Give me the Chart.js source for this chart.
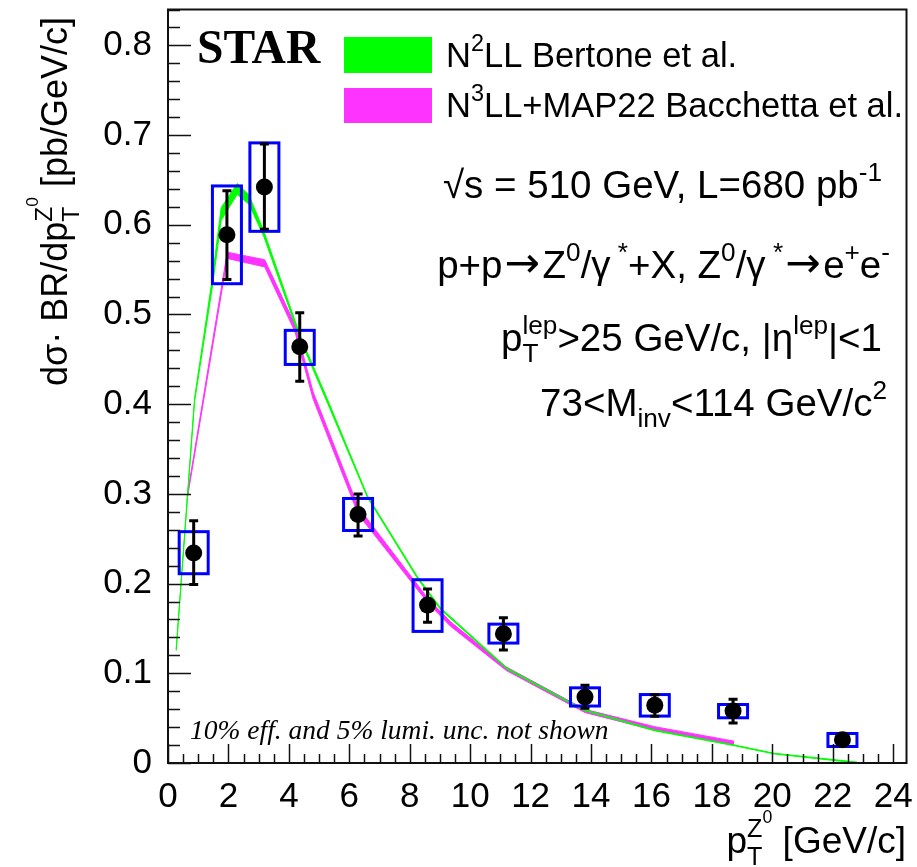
<!DOCTYPE html>
<html><head><meta charset="utf-8">
<script src="https://cdn.jsdelivr.net/npm/chart.js@4.4.0/dist/chart.umd.min.js"></script>
<style>html,body{margin:0;padding:0;background:#fff;} canvas{display:block;}</style>
</head><body>
<canvas id="c" width="917" height="867"></canvas>
<script>
// ---------------- data ----------------
const ptX    = [0.85, 1.95, 3.19, 4.36, 6.29, 8.59, 11.10, 13.80, 16.11, 18.70, 22.32];
const ptY    = [0.234, 0.589, 0.642, 0.464, 0.277, 0.176, 0.144, 0.0736, 0.0643, 0.058, 0.026];
const statLo = [0.199, 0.539, 0.595, 0.4255, 0.253, 0.157, 0.126, 0.061, 0.052, 0.0446, 0.022];
const statHi = [0.270, 0.638, 0.690, 0.502, 0.300, 0.194, 0.162, 0.0866, 0.0762, 0.071, 0.030];
const sysLo  = [0.2110, 0.5343, 0.5927, 0.4443, 0.2592, 0.1467, 0.1337, 0.0635, 0.0523, 0.0504, 0.0184];
const sysHi  = [0.2579, 0.6433, 0.6913, 0.4823, 0.2949, 0.2043, 0.1548, 0.0838, 0.0763, 0.0652, 0.0329];
const binHalfWidth = 0.48;

// N2LL Bertone et al. (green band)
const greenX  = [0.27, 0.88, 1.46, 1.76, 2.29, 2.68, 3.17, 4.39, 5.27, 6.60, 8.25, 9.02, 11.23, 13.77, 16.09, 18.74, 20.06, 22.80];
const greenLo = [0.125, 0.403, 0.529, 0.605, 0.634, 0.623, 0.587, 0.471, 0.402, 0.296, 0.206, 0.171, 0.1043, 0.0584, 0.0360, 0.0193, 0.0101, 0.0];
const greenHi = [0.127, 0.407, 0.539, 0.619, 0.646, 0.633, 0.593, 0.475, 0.406, 0.298, 0.208, 0.173, 0.1057, 0.0596, 0.0370, 0.0201, 0.0109, 0.001];

// N3LL+MAP22 Bacchetta et al. (magenta band)
const magX  = [0.63, 1.96, 3.20, 4.20, 4.80, 6.30, 8.60, 9.35, 11.20, 13.80, 16.10, 18.74];
const magLo = [0.293, 0.5625, 0.5530, 0.481, 0.406, 0.277, 0.1785, 0.1525, 0.1030, 0.0562, 0.0365, 0.0203];
const magHi = [0.297, 0.5695, 0.5610, 0.489, 0.414, 0.285, 0.1835, 0.1575, 0.1070, 0.0598, 0.0405, 0.0243];

const yTickStep = 0.1, xTickStep = 2;
const xMax = 24.44, yMax = 0.84;

// ---------------- helpers ----------------
const SANS = '"Liberation Sans", Arial, Helvetica, sans-serif';
const SERIF = '"Liberation Serif", "Times New Roman", serif';
const DEJA = '"DejaVu Sans", sans-serif';
const pts = (xs, ys) => xs.map((x, i) => ({x, y: ys[i]}));

function fontStr(r, size, fam) { return `${r.st || ''} ${(size * (r.s || 1)).toFixed(2)}px ${r.f || fam}`; }
function measureRuns(ctx, runs, size, fam) {
  let w = 0;
  for (const r of runs) { ctx.font = fontStr(r, size, fam); w += ctx.measureText(r.t).width + (r.g || 0) * size; }
  return w;
}
function drawRuns(ctx, runs, x, y, size, fam) {
  for (const r of runs) {
    ctx.font = fontStr(r, size, fam);
    ctx.fillText(r.t, x + (r.pre || 0) * size, y + (r.dy || 0) * size);
    x += ctx.measureText(r.t).width + (r.g || 0) * size;
  }
}
function drawRich(ctx, items, x, y, size, fam, align) {
  const widths = items.map(it => it.stack ? Math.max(...it.stack.map(rs => measureRuns(ctx, rs, size, fam)))
                                          : measureRuns(ctx, [it], size, fam));
  const total = widths.reduce((a, b) => a + b, 0);
  let cx = align === 'right' ? x - total : (align === 'center' ? x - total / 2 : x);
  ctx.textAlign = 'left'; ctx.textBaseline = 'alphabetic';
  items.forEach((it, i) => {
    if (it.stack) it.stack.forEach(rs => drawRuns(ctx, rs, cx, y, size, fam));
    else drawRuns(ctx, [it], cx, y, size, fam);
    cx += widths[i];
  });
}
const SUP = (t, g) => ({t, s: 0.68, dy: -0.45, g});
const SUB = (t) => ({t, s: 0.68, dy: 0.28});
const ARROW = {t: '\u2192', f: DEJA, s: 1.1, dy: -0.02, g: 0.12, pre: 0.06};

// ---------------- custom drawing plugin ----------------
const starPlugin = {
  id: 'star',
  beforeDatasetDraw(chart, args) {
    if (args.index !== 4) return;
    const ctx = chart.ctx, xs = chart.scales.x, ys = chart.scales.y;
    ctx.save();
    // systematic boxes
    ctx.strokeStyle = '#0000ff'; ctx.lineWidth = 3;
    for (let i = 0; i < ptX.length; i++) {
      const x0 = xs.getPixelForValue(ptX[i] - binHalfWidth), x1 = xs.getPixelForValue(ptX[i] + binHalfWidth);
      const y0 = ys.getPixelForValue(sysHi[i]), y1 = ys.getPixelForValue(sysLo[i]);
      ctx.strokeRect(x0, y0, x1 - x0, y1 - y0);
    }
    // statistical error bars
    ctx.strokeStyle = '#000'; ctx.lineWidth = 3;
    for (let i = 0; i < ptX.length; i++) {
      const x = xs.getPixelForValue(ptX[i]);
      const y0 = ys.getPixelForValue(statHi[i]), y1 = ys.getPixelForValue(statLo[i]);
      ctx.beginPath();
      ctx.moveTo(x, y0); ctx.lineTo(x, y1);
      ctx.moveTo(x - 4.5, y0); ctx.lineTo(x + 4.5, y0);
      ctx.moveTo(x - 4.5, y1); ctx.lineTo(x + 4.5, y1);
      ctx.stroke();
    }
    ctx.restore();
  },
  afterDraw(chart) {
    const ctx = chart.ctx, xs = chart.scales.x, ys = chart.scales.y, a = chart.chartArea;
    ctx.save();
    // ticks inside frame
    ctx.strokeStyle = '#111'; ctx.lineWidth = 1.5;
    ctx.beginPath();
    for (let k = 0; k <= Math.round(yMax / 0.02); k++) {
      const v = k * 0.02; if (v > yMax + 1e-9) break;
      const y = Math.round(ys.getPixelForValue(v)) + 0.5;
      const len = (k % 5 === 0) ? 23 : 12;
      ctx.moveTo(a.left, y); ctx.lineTo(a.left + len, y);
    }
    for (let k = 0; k * 0.5 <= xMax; k++) {
      const x = Math.round(xs.getPixelForValue(k * 0.5)) + 0.5;
      const len = (k % 4 === 0) ? 19 : 9;
      ctx.moveTo(x, a.bottom); ctx.lineTo(x, a.bottom - len);
    }
    ctx.stroke();
    // frame
    ctx.strokeStyle = '#111'; ctx.lineWidth = 2;
    ctx.strokeRect(a.left, a.top, a.right - a.left, a.bottom - a.top);

    ctx.fillStyle = '#000';
    // STAR label
    ctx.font = `bold 47.5px ${SERIF}`; ctx.textAlign = 'left'; ctx.textBaseline = 'alphabetic';
    ctx.fillText('STAR', 197, 63);

    // legend
    ctx.fillStyle = '#00ff00'; ctx.fillRect(344, 37, 88, 36);
    ctx.fillStyle = '#ff33ff'; ctx.fillRect(344, 88, 88, 35);
    ctx.fillStyle = '#000';
    const LS = 34.5;
    drawRich(ctx, [{t: 'N'}, SUP('2'), {t: 'LL Bertone et al.'}], 446, 67, LS, SANS, 'left');
    drawRich(ctx, [{t: 'N'}, SUP('3'), {t: 'LL+MAP22 Bacchetta et al.'}], 446, 117, LS, SANS, 'left');

    // annotations
    const TS = 38.5;
    drawRich(ctx, [{t: '\u221As = 510 GeV, L=680 pb'}, SUP('-1')], 882, 198, TS, SANS, 'right');
    drawRich(ctx, [{t: 'p+p'}, ARROW, {t: 'Z'}, SUP('0'), {t: '/\u03B3'}, SUP(' *'), {t: '+X, Z'}, SUP('0'), {t: '/\u03B3'}, SUP(' *'),
                   ARROW, {t: 'e'}, SUP('+'), {t: 'e'}, SUP('-')], 890, 278, TS, SANS, 'right');
    drawRich(ctx, [{t: 'p'}, {stack: [[SUB('T')], [SUP('lep')]]}, {t: '>25 GeV/c, |\u03B7'}, SUP('lep'), {t: '|<1'}], 882, 351, TS, SANS, 'right');
    drawRich(ctx, [{t: '73<M'}, SUB('inv'), {t: '<114 GeV/c'}, SUP('2')], 887, 416, TS, SANS, 'right');

    // note
    ctx.font = `italic 27.5px ${SERIF}`; ctx.textAlign = 'left';
    ctx.fillText('10% eff. and 5% lumi. unc. not shown', 190, 739);

    // x title
    drawRich(ctx, [{t: 'p'}, {stack: [[{t: 'T', s: 0.68, dy: 0.33}], [{t: 'Z', s: 0.68, dy: -0.42}, {t: '0', s: 0.48, dy: -0.8}]]},
                   {t: ' [GeV/c]'}], 906, 853, 37, SANS, 'right');
    // y title (rotated)
    ctx.translate(67, 17); ctx.rotate(-Math.PI / 2);
    drawRich(ctx, [{t: 'd\u03C3\u00B7 BR/dp'}, {stack: [[{t: 'T', s: 0.68, dy: 0.33}], [{t: 'Z', s: 0.68, dy: -0.42}, {t: '0', s: 0.48, dy: -0.8}]]},
                   {t: ' [pb/GeV/c]'}], 0, 0, 36, SANS, 'right');
    ctx.restore();
  }
};

// ---------------- chart ----------------
const lineDS = (label, data, color, fill) => ({
  type: 'line', label, data, borderColor: color, backgroundColor: color, borderWidth: 1,
  pointRadius: 0, tension: 0, fill: fill, order: 5
});

new Chart(document.getElementById('c'), {
  type: 'scatter',
  data: {
    datasets: [
      lineDS('N2LL low', pts(greenX, greenLo), '#00ff00', false),
      lineDS('N2LL Bertone et al.', pts(greenX, greenHi), '#00ff00', '-1'),
      lineDS('N3LL low', pts(magX, magLo), '#ff33ff', false),
      lineDS('N3LL+MAP22 Bacchetta et al.', pts(magX, magHi), '#ff33ff', '-1'),
      { type: 'scatter', label: 'STAR', data: pts(ptX, ptY), backgroundColor: '#000', borderWidth: 0,
        pointRadius: 8.5, pointHoverRadius: 8.5, order: 0 }
    ]
  },
  options: {
    responsive: false, animation: false, devicePixelRatio: 1,
    layout: { padding: { left: 0, top: 9.5, right: 10.5, bottom: 0 } },
    plugins: { legend: { display: false }, tooltip: { enabled: false }, filler: { propagate: false } },
    scales: {
      x: {
        type: 'linear', min: 0, max: xMax,
        grid: { display: false }, border: { display: false },
        ticks: { stepSize: xTickStep, includeBounds: false, padding: 5, color: '#000',
                 font: { family: SANS, size: 35 }, maxRotation: 0, autoSkip: false },
        afterFit(s) { s.height = 104; s.paddingLeft = 0; s.paddingRight = 0; }
      },
      y: {
        type: 'linear', min: 0, max: yMax,
        grid: { display: false }, border: { display: false },
        ticks: { stepSize: yTickStep, includeBounds: false, padding: 8, color: '#000',
                 font: { family: SANS, size: 35 }, autoSkip: false },
        afterFit(s) { s.width = 168; s.paddingTop = 0; s.paddingBottom = 0; }
      }
    }
  },
  plugins: [starPlugin]
});
</script></body></html>
